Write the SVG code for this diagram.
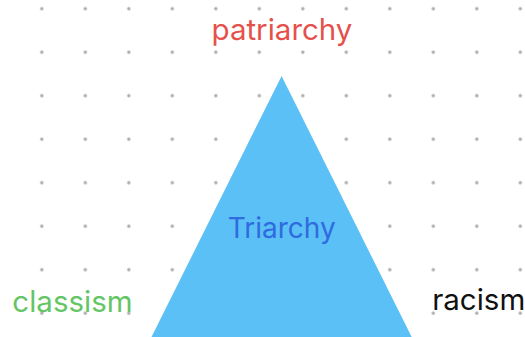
<svg xmlns="http://www.w3.org/2000/svg" width="525" height="337" viewBox="0 0 525 337">
<defs>
<style>
.lbl{font-family:Inter,"Noto Sans","Liberation Sans",sans-serif;text-anchor:middle}
.dot{fill:#aaaaaa}
</style>
<pattern id="grid" x="0" y="0" width="43.5" height="43.5" patternUnits="userSpaceOnUse" patternTransform="translate(41.8 8.7)">
<circle class="dot" cx="0" cy="0" r="1.7"/><circle class="dot" cx="43.5" cy="0" r="1.7"/><circle class="dot" cx="0" cy="43.5" r="1.7"/><circle class="dot" cx="43.5" cy="43.5" r="1.7"/>
</pattern>
</defs>
<rect width="525" height="337" fill="#ffffff"/>
<rect x="38" y="0" width="487" height="337" fill="url(#grid)"/>
<g id="triangle">
<polygon points="281.6,76 150,340 413.2,340" fill="#5bc0f5"/>
<text class="lbl" x="281.7" y="237.5" font-size="28" fill="#2f6be0">Triarchy</text>
</g>
<g id="patriarchy"><text class="lbl" x="282" y="39.5" font-size="29.5" fill="#e5514a">patriarchy</text></g>
<g id="classism"><text class="lbl" x="72.5" y="311.5" font-size="29.5" fill="#63c563">classism</text></g>
<g id="racism"><text class="lbl" x="478.7" y="309.5" font-size="29.5" fill="#111111">racism</text></g>
<g id="connectors"/>
</svg>
